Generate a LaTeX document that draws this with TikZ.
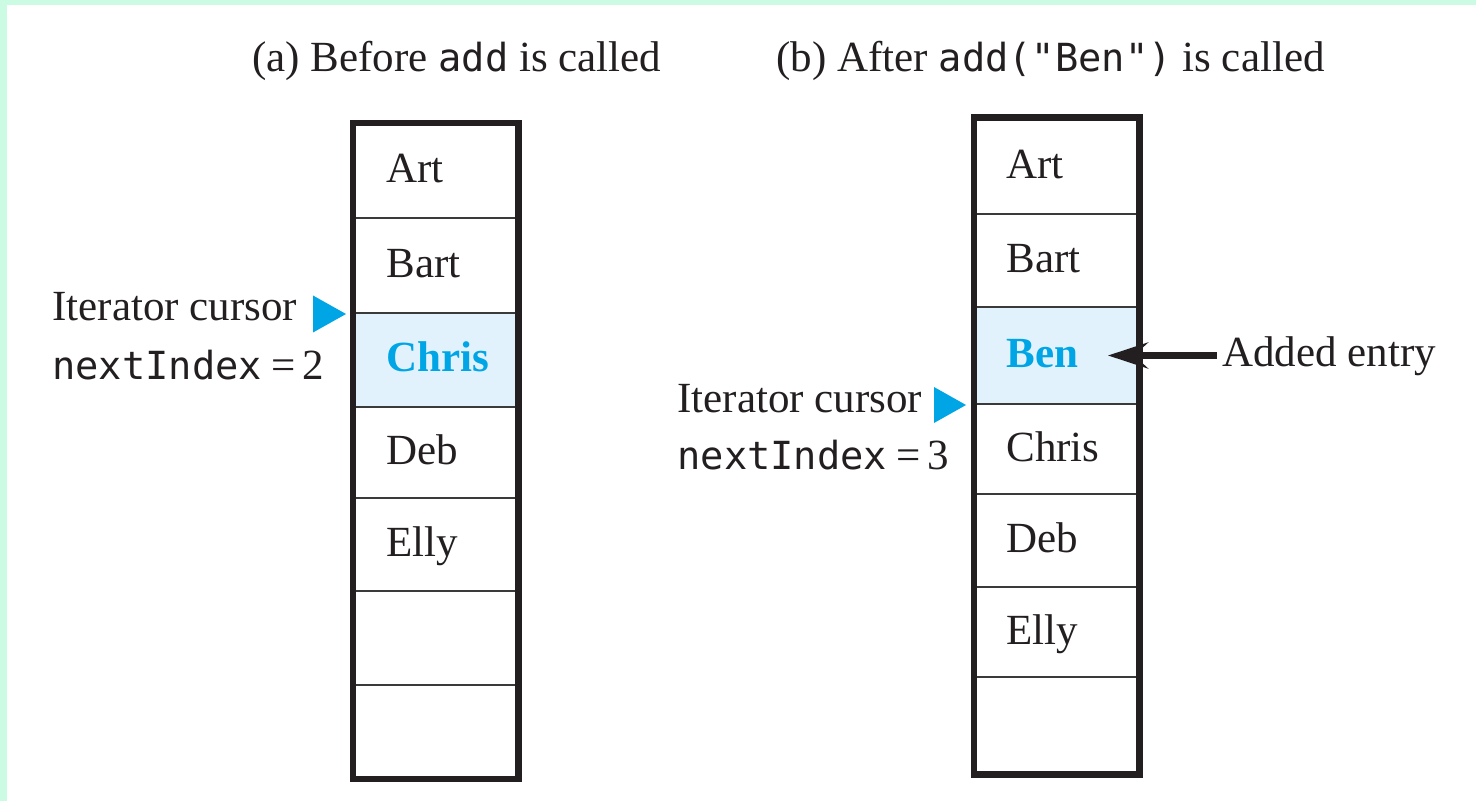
\documentclass[tikz,border=0pt]{standalone}
\usepackage{fontspec}
\setmainfont{Liberation Serif}
\setmonofont[Scale=0.9]{DejaVu Sans Mono}
\usetikzlibrary{fit,arrows.meta}
\definecolor{mint}{HTML}{CCFBE3}
\definecolor{cyanblue}{HTML}{00A5E6}
\definecolor{hlfill}{HTML}{E1F2FC}
\definecolor{gridgray}{HTML}{3A3A3A}
\definecolor{framek}{HTML}{231F20}
\definecolor{txt}{HTML}{231F20}
\tikzset{
  cellbox/.style={draw=gridgray, line width=1pt, inner sep=0pt, rectangle},
  hlcell/.style={cellbox, fill=hlfill},
  frame/.style={draw=framek, line width=3.2pt},
  lbl/.style={anchor=base west, inner sep=0pt, text=txt},
  hllbl/.style={lbl, text=cyanblue, font=\fontsize{21.5}{25}\selectfont\bfseries},
  pointer/.style={fill=cyanblue, draw=none},
  addarrow/.style={draw=framek, line width=3.2pt, -{Stealth[length=20pt,width=13pt,inset=7pt]}}
}
\begin{document}
\begin{tikzpicture}[x=0.5pt,y=-0.5pt, font=\fontsize{21.5}{25}\selectfont]
\fill[mint] (0,0) rectangle (1476,801);
\fill[white] (7,5) rectangle (1476,801);
\useasboundingbox (0,0) rectangle (1476,801);

% titles
\node[lbl] (ta) at (252,72) {(a) Before \texttt{add} is called};
\node[lbl] (tb) at (776,72) {(b) After \texttt{add("Ben")} is called};

% left table
\node[cellbox, fit={(354,124) (517.5,218)}] (a1) {};
\node[cellbox, fit={(354,218) (517.5,313)}] (a2) {};
\node[hlcell,  fit={(354,313) (517.5,407)}] (a3) {};
\node[cellbox, fit={(354,407) (517.5,498)}] (a4) {};
\node[cellbox, fit={(354,498) (517.5,591)}] (a5) {};
\node[cellbox, fit={(354,591) (517.5,685)}] (a6) {};
\node[cellbox, fit={(354,685) (517.5,778)}] (a7) {};
\draw[frame] (a1.north west) rectangle (a7.south east);

\node[lbl]   (a1t) at ([xshift=16.5pt,yshift=-6pt]a1.west) {Art};
\node[lbl]   (a2t) at ([xshift=16.5pt,yshift=-6pt]a2.west) {Bart};
\node[hllbl] (a3t) at ([xshift=16.5pt,yshift=-6pt]a3.west) {Chris};
\node[lbl]   (a4t) at ([xshift=16.5pt,yshift=-6pt]a4.west) {Deb};
\node[lbl]   (a5t) at ([xshift=16.5pt,yshift=-6pt]a5.west) {Elly};

% right table
\node[cellbox, fit={(975,118.5) (1138.5,214)}] (b1) {};
\node[cellbox, fit={(975,214) (1138.5,307)}] (b2) {};
\node[hlcell,  fit={(975,307) (1138.5,404)}] (b3) {};
\node[cellbox, fit={(975,404) (1138.5,494)}] (b4) {};
\node[cellbox, fit={(975,494) (1138.5,587)}] (b5) {};
\node[cellbox, fit={(975,587) (1138.5,677)}] (b6) {};
\node[cellbox, fit={(975,677) (1138.5,773.5)}] (b7) {};
\draw[frame] (b1.north west) rectangle (b7.south east);

\node[lbl]   (b1t) at ([xshift=16pt,yshift=-6pt]b1.west) {Art};
\node[lbl]   (b2t) at ([xshift=16pt,yshift=-6pt]b2.west) {Bart};
\node[hllbl] (b3t) at ([xshift=16pt,yshift=-6pt]b3.west) {Ben};
\node[lbl]   (b4t) at ([xshift=16pt,yshift=-6pt]b4.west) {Chris};
\node[lbl]   (b5t) at ([xshift=16pt,yshift=-6pt]b5.west) {Deb};
\node[lbl]   (b6t) at ([xshift=16pt,yshift=-6pt]b6.west) {Elly};

% iterator labels
\node[lbl] (ica) at (52,321) {Iterator cursor};
\node[lbl] (nia) at (52,380) {\texttt{nextIndex}\hspace{0.22em}=\hspace{0.15em}2};
\node[lbl] (icb) at (677,413) {Iterator cursor};
\node[lbl] (nib) at (677,470) {\texttt{nextIndex}\hspace{0.22em}=\hspace{0.15em}3};

% pointers
\coordinate (pa) at ([xshift=-3.5pt]a2.south west);
\coordinate (pb) at ([xshift=-4pt]b3.south west);
\fill[pointer] (pa) -- ++(-33,-18.5) -- ++(0,37) -- cycle;
\fill[pointer] (pb) -- ++(-32,-18) -- ++(0,36) -- cycle;

% added entry
\node[lbl] (added) at (1222,367) {Added entry};
\coordinate (btip) at ([xshift=-15.75pt]b3.east);
\draw[addarrow] (btip -| added.west) ++(-5,0) -- (btip);
\end{tikzpicture}
\end{document}
